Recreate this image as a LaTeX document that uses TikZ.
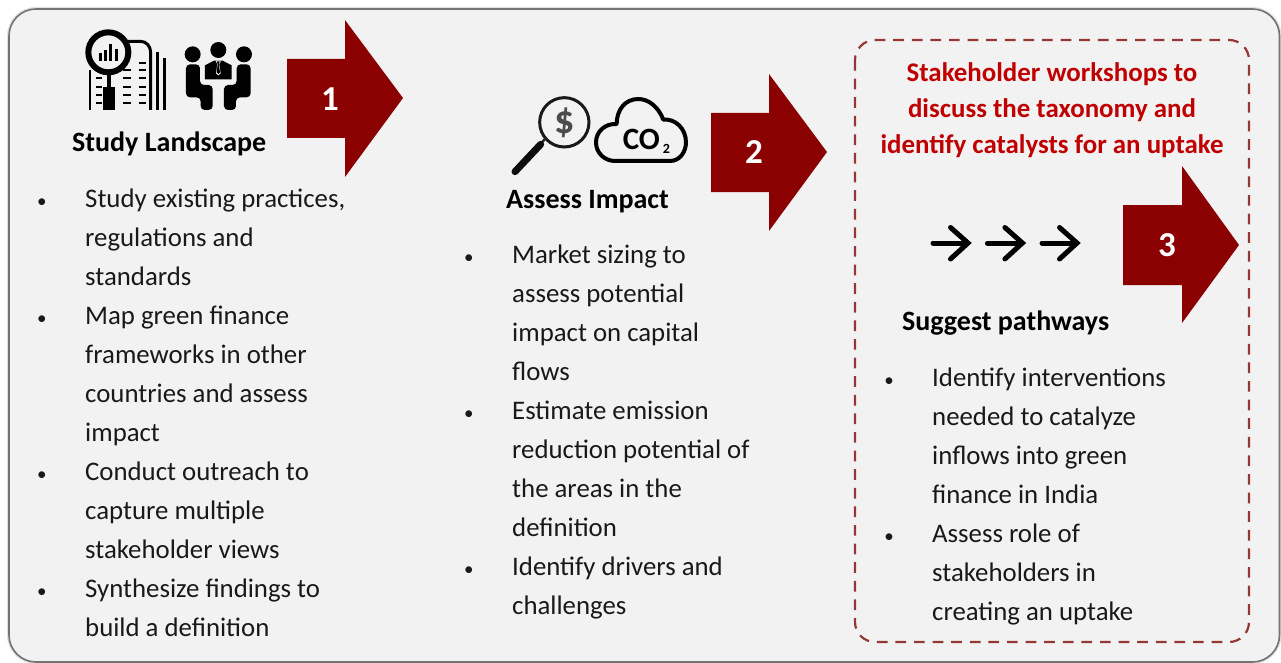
\documentclass[tikz,border=0pt]{standalone}
\usepackage{fontspec}
\setmainfont{Carlito}
\definecolor{darkred}{HTML}{8B0000}
\definecolor{headred}{HTML}{C00000}
\definecolor{dashred}{HTML}{953735}
\definecolor{panel}{HTML}{F2F2F2}
\newcommand{\itm}{\hbox to 0pt{\hss\fontsize{19}{39}\selectfont\textbullet\hskip 38.5pt}}
\tikzset{
  listtext/.style={inner sep=0pt,anchor=north west,align=left,font=\fontsize{26.8}{39}\selectfont,text=black!90},
  headtext/.style={inner sep=0pt,anchor=base west,font=\fontsize{28}{30}\selectfont\bfseries},
  numtext/.style={inner sep=0pt,anchor=center,text=white,font=\fontsize{35}{36}\selectfont\bfseries},
  bigarrow/.style={fill=darkred,draw=none},
  chev/.style={draw=black,line width=5pt,line join=miter,line cap=round},
}
\begin{document}
\begin{tikzpicture}[x=1pt,y=-1pt]
\useasboundingbox (0,0) rectangle (1281,663);
\fill[white] (0,0) rectangle (1281,663);
% panel
\draw[black!12,line width=4pt,rounded corners=27pt] (9,9) rectangle (1279.5,662);
\draw[fill=panel,draw=black!55,line width=1.6pt,rounded corners=27pt] (9,9) rectangle (1279.5,662);
% dashed box
\draw[dashred,line width=2.2pt,rounded corners=20pt,dash pattern=on 10.7pt off 7.9pt] (855,40) rectangle (1249,642);
% big arrows
\fill[bigarrow] (287,59)--(345,59)--(345,20)--(403,98)--(345,177)--(345,138)--(287,138)--cycle;
\fill[bigarrow] (711,113)--(769,113)--(769,74)--(827,152)--(769,231)--(769,192)--(711,192)--cycle;
\fill[bigarrow] (1123,205)--(1182,205)--(1182,166)--(1239,245)--(1182,323)--(1182,285)--(1123,285)--cycle;
\node[numtext] (n1) at (330,99) {1};
\node[numtext] (n2) at (754,152) {2};
\node[numtext] (n3) at (1167,245) {3};
% headings
\node[headtext] (h1) at (72,152) {Study Landscape};
\node[headtext] (h2) at (506,208) {Assess Impact};
\node[headtext] (h3) at (902,330) {Suggest pathways};
\node[inner sep=0pt,anchor=center,align=center,text=headred,font=\fontsize{26.9}{36}\selectfont\bfseries] (w) at (1052,110.5) {Stakeholder workshops to\\discuss the taxonomy and\\identify catalysts for an uptake};
% lists
\node[listtext] (l1) at (85,188.5) {\itm Study existing practices,\\regulations and\\standards\\\itm Map green finance\\frameworks in other\\countries and assess\\impact\\\itm Conduct outreach to\\capture multiple\\stakeholder views\\\itm Synthesize findings to\\build a definition};
\node[listtext] (l2) at (512,244.5) {\itm Market sizing to\\assess potential\\impact on capital\\flows\\\itm Estimate emission\\reduction potential of\\the areas in the\\definition\\\itm Identify drivers and\\challenges};
\node[listtext] (l3) at (932,367.5) {\itm Identify interventions\\needed to catalyze\\inflows into green\\finance in India\\\itm Assess role of\\stakeholders in\\creating an uptake};
% small arrows
\foreach \dx in {0,54.4,109}{
  \draw[chev] (933+\dx,243)--(967+\dx,243);
  \draw[chev] (950.5+\dx,227.5)--(968+\dx,243)--(950.5+\dx,259);
}
% building + people icon
\begin{scope}[shift={(70,20)},x=.3333pt,y=-.3333pt]
  \draw[line width=2.8pt] (60,150)--(60,270);
  \draw[line width=3pt,line join=round] (170,64)--(212,64) to[out=0,in=90] (242,97)--(242,270);
  \draw[line width=2.6pt] (262,97)--(262,270);
  \draw[line width=2.6pt] (283,115)--(283,270);
  \foreach \y in {128,150,175,200,225,250} \draw[line width=2.2pt] (206,\y)--(228,\y);
  \foreach \y in {150,175,200,225,250} \draw[line width=2.2pt] (160,\y)--(182,\y);
  \foreach \y in {175,200,225,250} \draw[line width=2.2pt] (78,\y)--(97,\y);
  \draw[fill=panel,line width=6pt] (115,97) circle[radius=60];
  \fill (112,165) rectangle (122,200);
  \fill (98,200) rectangle (135,270);
  \draw[line width=2.4pt] (91,122)--(91,98);
  \draw[line width=2.4pt] (122,122)--(122,72);
  \draw[line width=2.4pt] (140,122)--(140,88);
  \draw[line width=2.4pt] (106,122)--(106,90);
  % people
  \fill (368,103) circle[radius=24];
  \fill (445,90) circle[radius=24];
  \fill (522,103) circle[radius=24];
  \fill[line join=round] (405,178)--(405,136)--(432,122)--(458,122)--(485,136)--(485,178)--cycle;
  \fill[panel] (437,122)--(453,122)--(448,133)--(452,160)--(445,166)--(438,160)--(442,133)--cycle;
  \fill (441,124)--(449,124)--(447,134)--(450,157)--(445,162)--(440,157)--(443,134)--cycle;
  \fill[rounded corners=4pt] (348,232)--(348,133)--(390,133)--(390,195)--(428,195)--(428,270)--(392,270)--(392,232)--cycle;
  \fill[rounded corners=4pt] (542,232)--(542,133)--(500,133)--(500,195)--(462,195)--(462,270)--(498,270)--(498,232)--cycle;
\end{scope}
% dollar + cloud icon
\begin{scope}[shift={(500,85)},x=.3333pt,y=-.3333pt]
  \draw[black!90,line width=3pt] (193,112) circle[radius=74];
  \draw[black!85,line width=2.4pt] (137,160)--(122,176);
  \draw[black!95,line width=7pt,line cap=round] (122,178)--(45,260);
  \node[inner sep=0pt,text=black!70,font=\fontsize{40}{40}\selectfont\bfseries] (dollar) at (193,112) {\$};
  \draw[line width=4pt,line join=round] (345,228)--(510,228)
    .. controls (540,228) and (558,200) .. (558,172)
    .. controls (558,130) and (525,100) .. (490,104)
    .. controls (475,65) and (445,42) .. (415,42)
    .. controls (375,42) and (350,75) .. (350,117)
    .. controls (315,115) and (288,140) .. (288,172)
    .. controls (288,205) and (315,228) .. (345,228)--cycle;
  \node[inner sep=0pt,anchor=center,font=\fontsize{31}{32}\selectfont\bfseries] (co) at (424,163) {CO};
  \node[inner sep=0pt,anchor=center,font=\fontsize{14}{14}\selectfont\bfseries] (two) at (499,192) {2};
\end{scope}
\end{tikzpicture}
\end{document}
